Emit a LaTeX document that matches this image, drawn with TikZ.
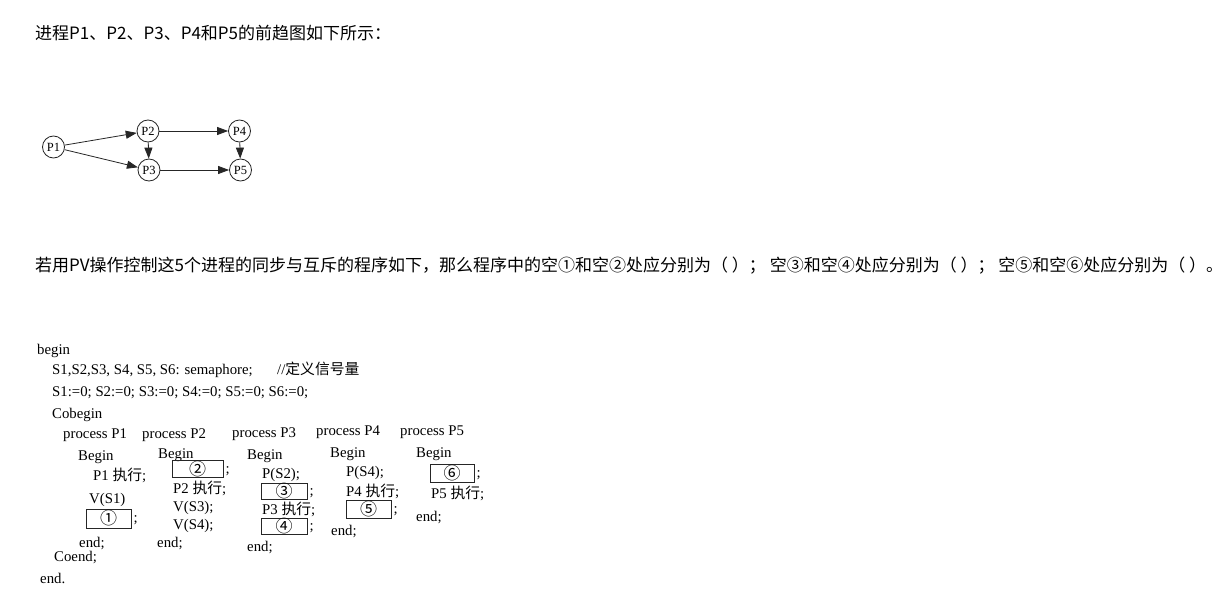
\documentclass[tikz,border=0pt]{standalone}
\usepackage{fontspec}
\setmainfont{Liberation Serif}
\newfontfamily\cjk{Noto Sans CJK SC}
\usetikzlibrary{arrows.meta}
\begin{document}
\begin{tikzpicture}[x=1pt,y=-1pt,
  title/.style={anchor=west,inner sep=0pt,font=\cjk\fontsize{17}{20}\selectfont,text height=12pt,text depth=3pt},
  code/.style={anchor=west,inner sep=0pt,font=\fontsize{14.8}{17}\selectfont,text height=10pt,text depth=3.5pt},
  gnode/.style={circle,draw=black!85,line width=0.8pt,minimum size=22pt,inner sep=0pt,font=\fontsize{12.5}{14}\selectfont},
  arr/.style={draw=black!85,line width=0.8pt,-{Triangle[length=11pt,width=8pt]}},
  blank/.style={draw=black!85,line width=0.9pt,inner sep=0pt,font=\cjk\fontsize{17}{18}\selectfont}]
\useasboundingbox (0,0) rectangle (1226,605);
\fill[white] (0,0) rectangle (1226,605);
% title lines
\node[title] (t1) at (35,35) {进程P1、P2、P3、P4和P5的前趋图如下所示：};
\node[title] (t2) at (35,267) {若用PV操作控制这5个进程的同步与互斥的程序如下，那么程序中的空①和空②处应分别为（ ）； 空③和空④处应分别为（ ）； 空⑤和空⑥处应分别为（ ）。};
% precedence graph
\node[gnode] (p1) at (53.5,147) {P1};
\node[gnode] (p2) at (148,131) {P2};
\node[gnode] (p3) at (149,170) {P3};
\node[gnode] (p4) at (239.5,131) {P4};
\node[gnode] (p5) at (240.5,170) {P5};
\draw[arr] (p1) -- (p2);
\draw[arr] (p1) -- (p3);
\draw[arr] (p2) -- (p3);
\draw[arr] (p2) -- (p4);
\draw[arr] (p4) -- (p5);
\draw[arr] (p3) -- (p5);
% program
\node[code] (c1) at (37,351) {begin};
\node[code] (c2) at (52,371) {S1,S2,S3, S4, S5, S6: semaphore;};
\node[code] (c3) at (277,371) {//{\cjk 定义信号量}};
\node[code] (c4) at (52,393) {S1:=0; S2:=0; S3:=0; S4:=0; S5:=0; S6:=0;};
\node[code] (c5) at (52,415) {Cobegin};
\node[code] (q1) at (63,435) {process P1};
\node[code] (q2) at (142,435) {process P2};
\node[code] (q3) at (232,434) {process P3};
\node[code] (q4) at (316,432) {process P4};
\node[code] (q5) at (400,432) {process P5};
% P1
\node[code] (a1) at (78,457) {Begin};
\node[code] (a2) at (93,477) {P1 {\cjk 执行};};
\node[code] (a3) at (89,500) {V(S1)};
\node[blank,minimum width=45pt,minimum height=19pt] (b1) at (108.5,518.5) {①};
\node[code] (a4) at ([xshift=2pt,yshift=-1pt]b1.east) {;};
\node[code] (a5) at (79,544) {end;};
\node[code] (c6) at (54,558) {Coend;};
\node[code] (c7) at (40,580) {end.};
% P2
\node[code] (d1) at (158,455) {Begin};
\node[blank,minimum width=51pt,minimum height=17pt] (b2) at (197.5,469) {②};
\node[code] (d2) at ([xshift=2pt,yshift=-1pt]b2.east) {;};
\node[code] (d3) at (173,490) {P2 {\cjk 执行};};
\node[code] (d4) at (173,508) {V(S3);};
\node[code] (d5) at (173,526) {V(S4);};
\node[code] (d6) at (157,544) {end;};
% P3
\node[code] (e1) at (247,456) {Begin};
\node[code] (e2) at (262,475) {P(S2);};
\node[blank,minimum width=46pt,minimum height=16pt] (b3) at (284,491.5) {③};
\node[code] (e3) at ([xshift=2pt,yshift=-1pt]b3.east) {;};
\node[code] (e4) at (262,511) {P3 {\cjk 执行};};
\node[blank,minimum width=46pt,minimum height=16pt] (b4) at (284,526) {④};
\node[code] (e5) at ([xshift=2pt,yshift=-1pt]b4.east) {;};
\node[code] (e6) at (247,548) {end;};
% P4
\node[code] (f1) at (330,454) {Begin};
\node[code] (f2) at (346,473) {P(S4);};
\node[code] (f3) at (346,493) {P4 {\cjk 执行};};
\node[blank,minimum width=45pt,minimum height=18pt] (b5) at (368.5,509) {⑤};
\node[code] (f4) at ([xshift=2pt,yshift=-1pt]b5.east) {;};
\node[code] (f5) at (331,532) {end;};
% P5
\node[code] (g1) at (416,454) {Begin};
\node[blank,minimum width=44pt,minimum height=18pt] (b6) at (452,473) {⑥};
\node[code] (g2) at ([xshift=2pt,yshift=-1pt]b6.east) {;};
\node[code] (g3) at (431,495) {P5 {\cjk 执行};};
\node[code] (g4) at (416,518) {end;};
\end{tikzpicture}
\end{document}
